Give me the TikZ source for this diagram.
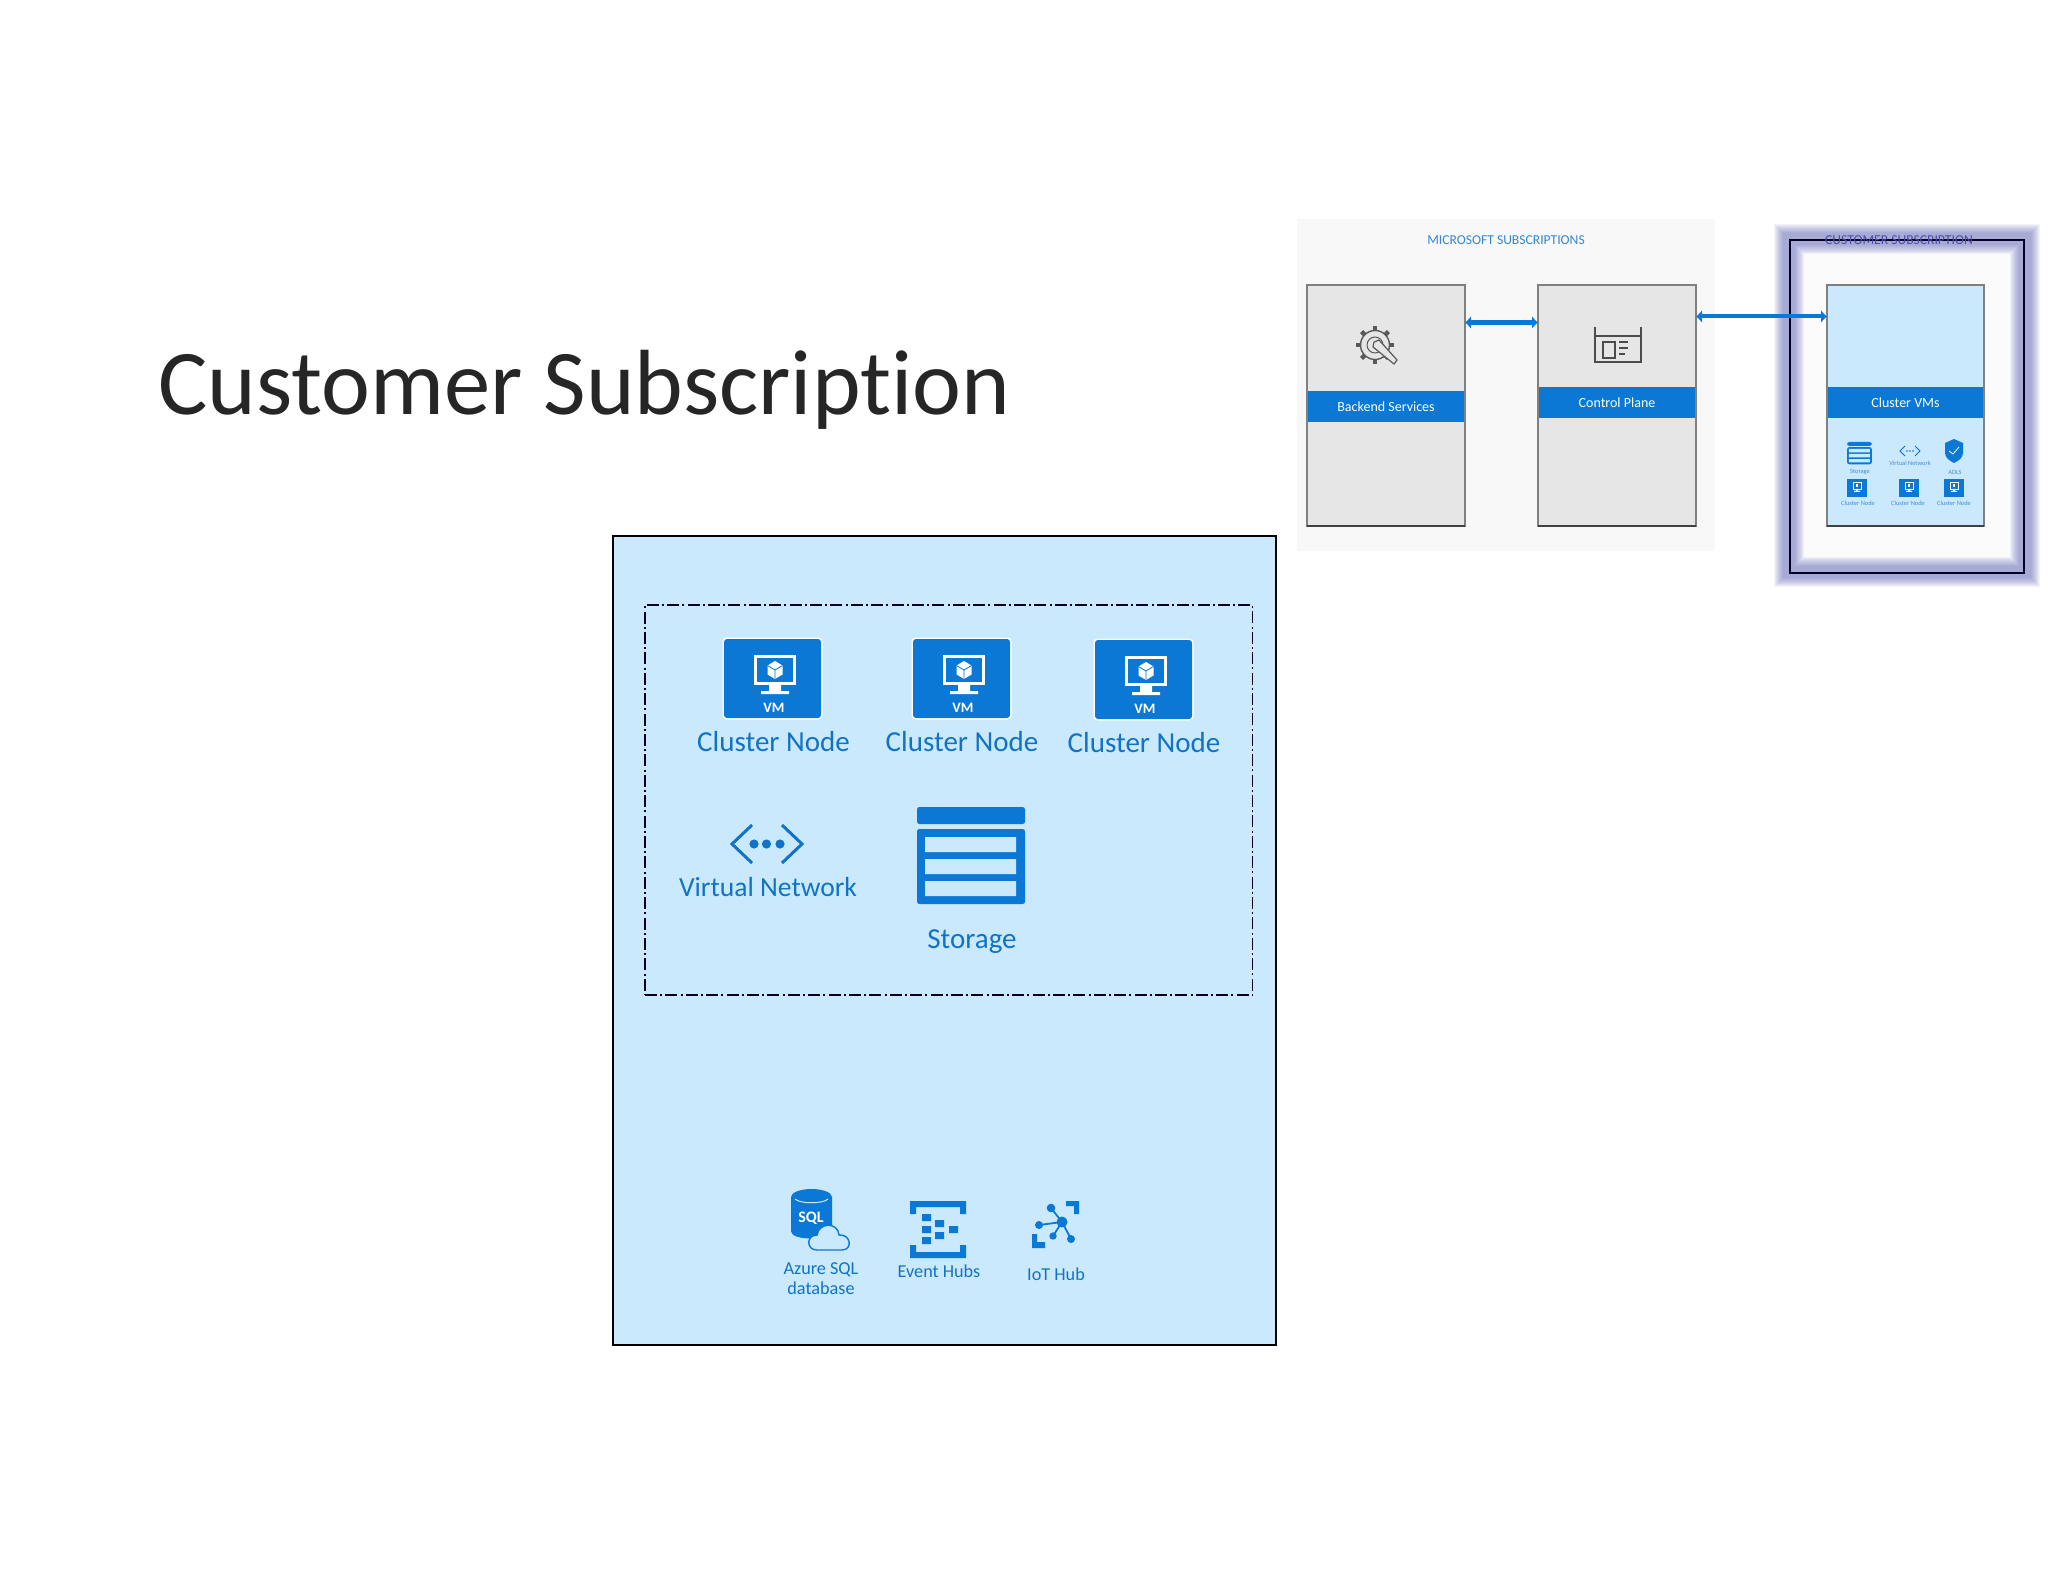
\documentclass[tikz,border=0pt]{standalone}
\usepackage{fontspec}
\setmainfont{Carlito}[Ligatures=NoCommon]
\usetikzlibrary{fit,arrows.meta}
\definecolor{bgblue}{HTML}{CBE9FD}
\definecolor{azure}{HTML}{0A78D4}
\definecolor{txtblue}{HTML}{1173C5}
\definecolor{panelgrey}{HTML}{F8F8F8}
\definecolor{boxgrey}{HTML}{E6E6E6}
\definecolor{glowblue}{HTML}{5A62B6}
\tikzset{
  x=.5pt,y=-.5pt,
  rectbox/.style={fit={#1},inner sep=0pt,outer sep=0pt},
  lbl/.style={text=txtblue,inner sep=0pt,font=\fontsize{14.5pt}{16pt}\selectfont},
  smalllbl/.style={text=txtblue,inner sep=0pt,font=\fontsize{9.1pt}{10.2pt}\selectfont},
  tinylbl/.style={text=txtblue!80,inner sep=0pt,font=\fontsize{3.2pt}{4pt}\selectfont},
  minibox/.style={draw=black!50,line width=.8pt},
  band/.style={fill=azure},
  bandtext/.style={text=white,inner sep=0pt,font=\fontsize{7pt}{8pt}\selectfont},
  linkarrow/.style={{Latex[length=3pt,width=6.5pt]}-{Latex[length=3pt,width=6.5pt]},draw=azure,line width=2.6pt},
  vmicon/.pic={
    \fill[white,rounded corners=2pt] (-1.5,-1.5) rectangle (98.5,80.5);
    \fill[azure,rounded corners=1.5pt] (0,0) rectangle (97,79);
    \draw[white,line width=1.5pt] (31.5,17.5) rectangle (70.5,44.5);
    \fill[white] (45,46) rectangle (57,52) (37,52) rectangle (65,55);
    \fill[white] (51,22) -- (58.5,26.5) -- (58.5,35.5) -- (51,40) -- (43.5,35.5) -- (43.5,26.5) -- cycle;
    \draw[azure,line width=.4pt] (43.5,26.5) -- (51,31) -- (58.5,26.5) (51,31) -- (51,40);
    \node[text=white,inner sep=0pt,font=\fontsize{7.2pt}{8pt}\selectfont\bfseries] (-vm) at (50,69) {VM};
  },
  storageicon/.pic={
    \fill[azure,rounded corners=1.2pt] (0,0) rectangle (108,17);
    \fill[azure,rounded corners=1.2pt] (0,22) rectangle (108,97);
    \fill[bgblue] (8,30) rectangle (99,45) (8,52) rectangle (99,67) (8,74) rectangle (99,89);
  },
  minivm/.pic={
    \fill[azure] (0,0) rectangle (20,18);
    \draw[white,line width=.4pt] (6,3) rectangle (14,10);
    \fill[white] (9,10) rectangle (11,12) (7,12) rectangle (13,13);
    \fill[white] (8.6,5) rectangle (11.4,8);
  },
}
\begin{document}
\begin{tikzpicture}
\useasboundingbox (0,0) rectangle (2048,1582);
\fill[white] (0,0) rectangle (2048,1582);

% title
\node[anchor=base west,inner sep=0pt,text=black!85,font=\fontsize{46.3pt}{50pt}\selectfont] (title) at (158,415) {Customer Subscription};

% main card
\node[rectbox={(613,536) (1276,1345)},fill=bgblue,draw=black,line width=.65pt] (card) {};
\node[rectbox={(645,605) (1252.5,995)},draw=black!90!blue,line width=.7pt,dash pattern=on 6pt off 1.6pt on 1pt off 1.6pt] (group) {};

% VMs
\pic (vma) at (724,639) {vmicon};
\pic (vmb) at (913,639) {vmicon};
\pic (vmc) at (1095,640) {vmicon};
\node[lbl] (cna) at (773.5,742) {Cluster Node};
\node[lbl] (cnb) at (962,742) {Cluster Node};
\node[lbl] (cnc) at (1144,743) {Cluster Node};

% virtual network
\draw[txtblue,line width=1.5pt] (752,825) -- (732,844) -- (752,863);
\draw[txtblue,line width=1.5pt] (782,825) -- (802,844) -- (782,863);
\fill[txtblue] (754,844) circle[radius=4.6] (766.5,844) circle[radius=4.6] (780,844) circle[radius=4.6];
\node[lbl,font=\fontsize{13.8pt}{16pt}\selectfont] (vnet) at (768,887) {Virtual Network};

% storage
\pic at (917,807) {storageicon};
\node[lbl] (storage) at (972,942) {Storage};

% SQL
\fill[azure] (791,1197) -- (791,1231) .. controls (791,1236) and (800,1238.5) .. (811.5,1238.5) .. controls (823,1238.5) and (832,1236) .. (832,1231) -- (832,1197) -- cycle;
\fill[azure] (811.5,1197) ellipse[x radius=20.5,y radius=8];
\draw[bgblue,line width=.5pt] (795,1199) .. controls (800,1204) and (823,1204) .. (828,1199);
\node[text=white,inner sep=0pt,font=\fontsize{8pt}{9pt}\selectfont\bfseries] (sqltext) at (811,1218) {SQL};
\draw[azure,fill=bgblue,line width=.7pt] (817,1250) .. controls (806,1250) and (806,1235) .. (817,1235) .. controls (819,1222) and (838,1222) .. (839,1235) .. controls (851,1234) and (853,1250) .. (842,1250) -- cycle;
\node[smalllbl,align=center] (sql) at (821,1278.5) {Azure SQL\\database};

% Event hubs
\fill[azure] (910,1201) rectangle (966,1207) (910,1207) rectangle (916,1214) (960,1207) rectangle (966,1214);
\fill[azure] (910,1252) rectangle (966,1258) (910,1245) rectangle (916,1252) (960,1245) rectangle (966,1252);
\fill[azure] (922,1214) rectangle (931,1221) (922,1226) rectangle (931,1233) (922,1237) rectangle (931,1244)
  (935,1220) rectangle (944,1227) (935,1232) rectangle (944,1239) (949,1226) rectangle (958,1233);
\node[smalllbl] (ehub) at (939,1271) {Event Hubs};

% IoT hub
\fill[azure] (1066,1201) -- (1079,1201) -- (1079,1214) -- (1074,1214) -- (1074,1206) -- (1066,1206) -- cycle;
\fill[azure] (1032,1234) -- (1037,1234) -- (1037,1242) -- (1045,1242) -- (1045,1248) -- (1032,1248) -- cycle;
\draw[azure,line width=.9pt] (1062,1222) -- (1051,1208) (1062,1222) -- (1039,1225) (1062,1222) -- (1053,1236) (1062,1222) -- (1071,1239);
\fill[azure] (1062,1222) circle[radius=5.5] (1051,1208) circle[radius=4.3] (1039,1225) circle[radius=4] (1053,1236) circle[radius=3.7] (1071,1239) circle[radius=4];
\node[smalllbl] (iot) at (1056,1274) {IoT Hub};

% ---- small overview picture
\node[rectbox={(1297,219) (1715,551)},fill=panelgrey] (mspanel) {};
\node[text=txtblue!85,inner sep=0pt,font=\fontsize{6.8pt}{7pt}\selectfont] (mstitle) at (1506,240) {MICROSOFT SUBSCRIPTIONS};

% highlight glow
\fill[panelgrey!50!white] (1800,250) rectangle (2016,562);
\foreach \w in {30,28,26,24,22,20,18,16,14,12}
  \draw[glowblue,line width=\w*.5pt,opacity=.07,line join=miter] (1789,239) rectangle (2025,572);
\draw[black!85!blue,line width=1.2pt] (1790,240) rectangle (2024,573);
\node[text=black!50!blue!70,inner sep=0pt,font=\fontsize{6.8pt}{7pt}\selectfont] (cstitle) at (1899,240) {CUSTOMER SUBSCRIPTION};

\node[rectbox={(1307,285) (1465,526)},fill=boxgrey,minibox] (backend) {};
\node[rectbox={(1538,285) (1696,526)},fill=boxgrey,minibox] (control) {};
\node[rectbox={(1827,285) (1984,526)},fill=bgblue,minibox] (cluster) {};
\foreach \n in {backend,control,cluster}
  \draw[black!75,line width=1pt] (\n.south west) -- (\n.south east);
\node[rectbox={(1308,391) (1464,422)},band] (backendband) {};
\node[rectbox={(1539,387) (1695,418)},band] (controlband) {};
\node[rectbox={(1828,387) (1983,418)},band] (clusterband) {};
\node[bandtext] (backendtext) at (backendband.center) {Backend Services};
\node[bandtext] (controltext) at (controlband.center) {Control Plane};
\node[bandtext] (clustertext) at (clusterband.center) {Cluster VMs};

\coordinate (linka) at (1400,322.5);
\coordinate (linkb) at (1700,316.5);
\draw[linkarrow] (backend.east |- linka) -- (control.west |- linka);
\draw[linkarrow,line width=2pt] (control.east |- linkb) -- (cluster.west |- linkb);

% gear icon
\foreach \a in {0,45,...,315}
  \draw[black!65,line width=2.2pt] (1375,345) ++(\a:12) -- ++(\a:7);
\draw[black!65,fill=boxgrey,line width=.7pt] (1375,345) circle[radius=14.5];
\draw[black!65,line width=.5pt] (1375,345) circle[radius=8];
\draw[black!65,fill=boxgrey,line width=.6pt] (1374,342) -- (1379,340) -- (1397,360) -- (1394,364) -- (1373,347) -- cycle;

% control plane icon
\draw[black!70,line width=.7pt] (1595,327) -- (1595,362) -- (1641,362) -- (1641,327) (1595,336) -- (1641,336);
\draw[black!70,line width=.7pt] (1603,342) rectangle (1615,358);
\draw[black!70,line width=.7pt] (1619,342) -- (1628,342) (1619,348) -- (1628,348) (1619,354) -- (1625,354);

% mini icons in cluster box
\pic[scale=.23] at (1847,442) {storageicon};
\node[tinylbl] (mstorage) at (1860,472) {Storage};
\draw[txtblue,line width=.4pt] (1905,446) -- (1900,451) -- (1905,456) (1915,446) -- (1920,451) -- (1915,456);
\fill[txtblue] (1907,451) circle[radius=.9] (1910,451) circle[radius=.9] (1913,451) circle[radius=.9];
\node[tinylbl] (mvnet) at (1910,463) {Virtual Network};
\fill[azure] (1954,439) -- (1963,443) -- (1963,453) .. controls (1963,458) and (1958,461) .. (1954,463) .. controls (1950,461) and (1945,458) .. (1945,453) -- (1945,443) -- cycle;
\draw[white,line width=.4pt] (1949,451) -- (1953,454) -- (1959,447);
\node[tinylbl] (madls) at (1955,472) {ADLS};
\pic at (1847,479) {minivm};
\pic at (1899,479) {minivm};
\pic at (1944,479) {minivm};
\node[tinylbl] (mna) at (1858,503) {Cluster Node};
\node[tinylbl] (mnb) at (1908,503) {Cluster Node};
\node[tinylbl] (mnc) at (1954,503) {Cluster Node};
\end{tikzpicture}
\end{document}
